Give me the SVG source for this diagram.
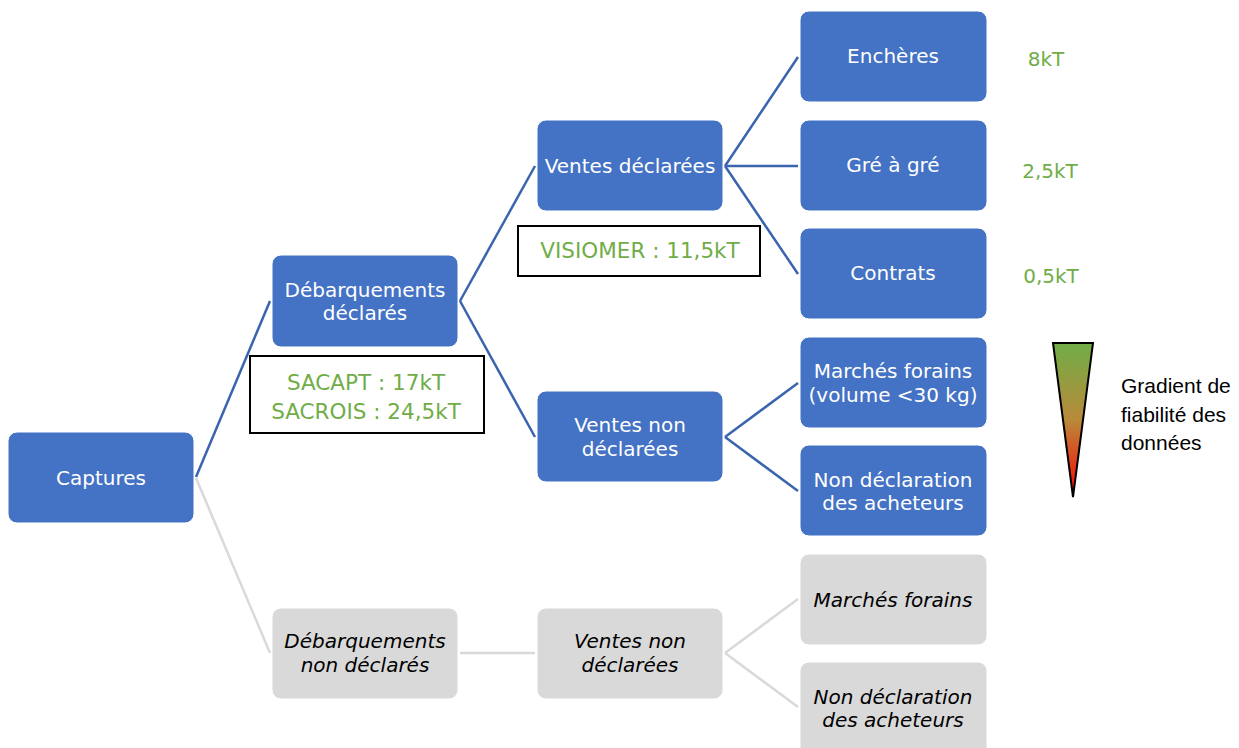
<svg xmlns="http://www.w3.org/2000/svg" width="1239" height="748" viewBox="0 0 1239 748">
<style>
.b{fill:#4472C4;stroke:#FFFFFF;stroke-width:1}
.g{fill:#D9D9D9;stroke:#FFFFFF;stroke-width:1}
.tw{font-family:"DejaVu Sans",sans-serif;font-size:20px;fill:#FFFFFF;text-anchor:middle}
.tg{font-family:"DejaVu Sans",sans-serif;font-size:20px;font-style:italic;fill:#000000;text-anchor:middle}
.gr{font-family:"DejaVu Sans",sans-serif;font-size:20px;fill:#70AD47;text-anchor:middle}
.gb{font-family:"DejaVu Sans",sans-serif;font-size:21.5px;fill:#70AD47;text-anchor:middle}
.bx{fill:#FFFFFF;stroke:#000000;stroke-width:2}
.cb{stroke:#3B64AF;stroke-width:2.5;fill:none}
.cg{stroke:#D9D9D9;stroke-width:2.5;fill:none}
.lg{font-family:"Liberation Sans",Arial,sans-serif;font-size:21px;fill:#000000}
</style>
<defs>
<linearGradient id="grad" x1="0" y1="0" x2="0" y2="1">
<stop offset="0" stop-color="#70AD47"/>
<stop offset="0.5" stop-color="#B98A3A"/>
<stop offset="1" stop-color="#FF0000"/>
</linearGradient>
</defs>
<rect width="1239" height="748" fill="#FFFFFF"/>
<g id="connectors">
<line class="cb" x1="196" y1="477" x2="270" y2="301"/>
<line class="cg" x1="196" y1="478" x2="270" y2="653"/>
<line class="cb" x1="460" y1="301" x2="535" y2="166"/>
<line class="cb" x1="460" y1="301" x2="535" y2="437"/>
<line class="cb" x1="725" y1="166" x2="798" y2="57"/>
<line class="cb" x1="725" y1="166" x2="798" y2="166"/>
<line class="cb" x1="725" y1="166" x2="798" y2="274"/>
<line class="cb" x1="725" y1="437" x2="798" y2="383"/>
<line class="cb" x1="725" y1="437" x2="798" y2="491"/>
<line class="cg" x1="460" y1="653" x2="535" y2="653"/>
<line class="cg" x1="725" y1="653" x2="798" y2="599"/>
<line class="cg" x1="725" y1="653" x2="798" y2="707"/>
</g>
<g id="captures"><rect class="b" x="8" y="432" width="186" height="91" rx="9"/><text class="tw" x="101" y="485">Captures</text></g>
<g id="deb-declares"><rect class="b" x="272" y="255" width="186" height="92" rx="9"/><text class="tw" x="365" y="297">Débarquements</text><text class="tw" x="365" y="320">déclarés</text></g>
<g id="sacapt"><rect class="bx" x="250" y="356" width="234" height="77"/><text class="gb" x="366" y="390">SACAPT : 17kT</text><text class="gb" x="366" y="419">SACROIS : 24,5kT</text></g>
<g id="ventes-declarees"><rect class="b" x="537" y="120" width="186" height="91" rx="9"/><text class="tw" x="630" y="173">Ventes déclarées</text></g>
<g id="visiomer"><rect class="bx" x="518" y="226" width="242" height="50"/><text class="gb" x="640" y="258">VISIOMER : 11,5kT</text></g>
<g id="ventes-non-declarees"><rect class="b" x="537" y="391" width="186" height="91" rx="9"/><text class="tw" x="630" y="432">Ventes non</text><text class="tw" x="630" y="456">déclarées</text></g>
<g id="encheres"><rect class="b" x="800" y="11" width="187" height="91" rx="9"/><text class="tw" x="893" y="63">Enchères</text></g>
<g id="gre"><rect class="b" x="800" y="120" width="187" height="91" rx="9"/><text class="tw" x="893" y="172">Gré à gré</text></g>
<g id="contrats"><rect class="b" x="800" y="228" width="187" height="91" rx="9"/><text class="tw" x="893" y="280">Contrats</text></g>
<g id="marches"><rect class="b" x="800" y="337" width="187" height="91" rx="9"/><text class="tw" x="893" y="378">Marchés forains</text><text class="tw" x="893" y="402">(volume &lt;30 kg)</text></g>
<g id="non-decl-acheteurs"><rect class="b" x="800" y="445" width="187" height="91" rx="9"/><text class="tw" x="893" y="487">Non déclaration</text><text class="tw" x="893" y="510">des acheteurs</text></g>
<g id="deb-non-declares"><rect class="g" x="272" y="608" width="186" height="91" rx="9"/><text class="tg" x="365" y="648">Débarquements</text><text class="tg" x="365" y="672">non déclarés</text></g>
<g id="ventes-non-declarees-g"><rect class="g" x="537" y="608" width="186" height="91" rx="9"/><text class="tg" x="630" y="648">Ventes non</text><text class="tg" x="630" y="672">déclarées</text></g>
<g id="marches-g"><rect class="g" x="800" y="554" width="187" height="91" rx="9"/><text class="tg" x="893" y="607">Marchés forains</text></g>
<g id="non-decl-g"><rect class="g" x="800" y="662" width="187" height="100" rx="9"/><text class="tg" x="893" y="704">Non déclaration</text><text class="tg" x="893" y="727">des acheteurs</text></g>
<g id="values">
<text class="gr" x="1046" y="66">8kT</text>
<text class="gr" x="1050" y="178">2,5kT</text>
<text class="gr" x="1051" y="283">0,5kT</text>
</g>
<g id="gradient">
<polygon points="1053,343 1093,343 1073,497" fill="url(#grad)" stroke="#000000" stroke-width="2" stroke-linejoin="miter"/>
<text class="lg" x="1121" y="393">Gradient de</text>
<text class="lg" x="1121" y="422">fiabilité des</text>
<text class="lg" x="1121" y="450">données</text>
</g>
</svg>
